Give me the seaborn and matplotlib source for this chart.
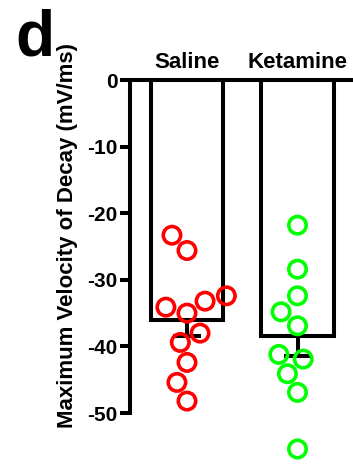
import numpy as np
import pandas as pd
import matplotlib
matplotlib.use("Agg")
import matplotlib.pyplot as plt
from matplotlib.collections import PathCollection
import seaborn as sns

# Maximum velocity of decay per cell (mV/ms)
groups = ["Saline", "Ketamine"]
saline = [-23.3, -25.6, -32.4, -33.2, -34.1, -35.0, -38.0, -39.4, -42.4, -45.4, -48.2]
ketamine = [-21.8, -28.4, -32.4, -34.8, -36.9, -41.2, -41.9, -44.1, -46.9, -55.4]
colors = ["#ff0000", "#00ff00"]
yticks = [0, -10, -20, -30, -40, -50]

df = pd.DataFrame({
    "group": ["Saline"] * len(saline) + ["Ketamine"] * len(ketamine),
    "value": saline + ketamine,
})
stats = df.groupby("group")["value"].agg(["mean", "sem"]).reindex(groups)

sns.set_theme(style="white")
plt.rcParams["font.family"] = ["Liberation Sans", "DejaVu Sans"]
plt.rcParams["font.weight"] = "bold"
for key in ["text.color", "axes.labelcolor", "xtick.color", "ytick.color"]:
    plt.rcParams[key] = "black"

fig = plt.figure(figsize=(3.53, 4.65), dpi=100)
ax = fig.add_axes([130 / 353, 0.0, 223 / 353, 385 / 465])

lw = 2.9
sns.barplot(data=df, x="group", y="value", order=groups, errorbar=None,
            color="white", edgecolor="black", linewidth=lw, width=0.66,
            ax=ax, zorder=1)

pos = np.arange(len(groups))
ax.errorbar(pos, stats["mean"].values,
            yerr=[stats["sem"].values, np.zeros(len(groups))],
            fmt="none", ecolor="black", elinewidth=lw, capsize=10,
            capthick=lw, zorder=2)

sns.swarmplot(data=df, x="group", y="value", order=groups, hue="group",
              hue_order=groups, palette=colors, size=12.5, legend=False,
              linewidth=2.6, ax=ax, zorder=3)

# open circles
for coll in ax.collections:
    if isinstance(coll, PathCollection) and len(coll.get_offsets()):
        fc = coll.get_facecolors()
        if len(fc):
            coll.set_edgecolors(fc)
            coll.set_facecolors("none")
            coll.set_linewidth(2.6)
            coll.set_clip_on(False)

ax.set_xlim(-57 / 110.5, -57 / 110.5 + 223 / 110.5)
ax.set_ylim(-57.8, 0)

ax.set_yticks(yticks)
ax.set_yticklabels([str(t) for t in yticks], fontsize=15, fontweight="bold")
ax.tick_params(axis="y", direction="out", length=7, width=lw, pad=2,
               left=True, colors="black")

ax.xaxis.tick_top()
ax.tick_params(axis="x", length=0, pad=5, labelsize=16, colors="black")
for lab in ax.get_xticklabels():
    lab.set_fontweight("bold")
ax.set_xlabel("")

for side in ["bottom", "right"]:
    ax.spines[side].set_visible(False)
for side in ["left", "top"]:
    ax.spines[side].set_visible(True)
    ax.spines[side].set_color("black")
    ax.spines[side].set_linewidth(lw)
ax.spines["left"].set_bounds(-50, 0)

ax.set_ylabel("Maximum Velocity of Decay (mV/ms)", fontsize=16,
              fontweight="bold", color="black")
ax.yaxis.set_label_coords(-0.233, 0.597)

fig.text(15 / 353, 1 - 8 / 465, "d", fontsize=46, fontweight="bold",
         ha="left", va="top", color="black")

fig.savefig("out.png", dpi=100, facecolor="white")
